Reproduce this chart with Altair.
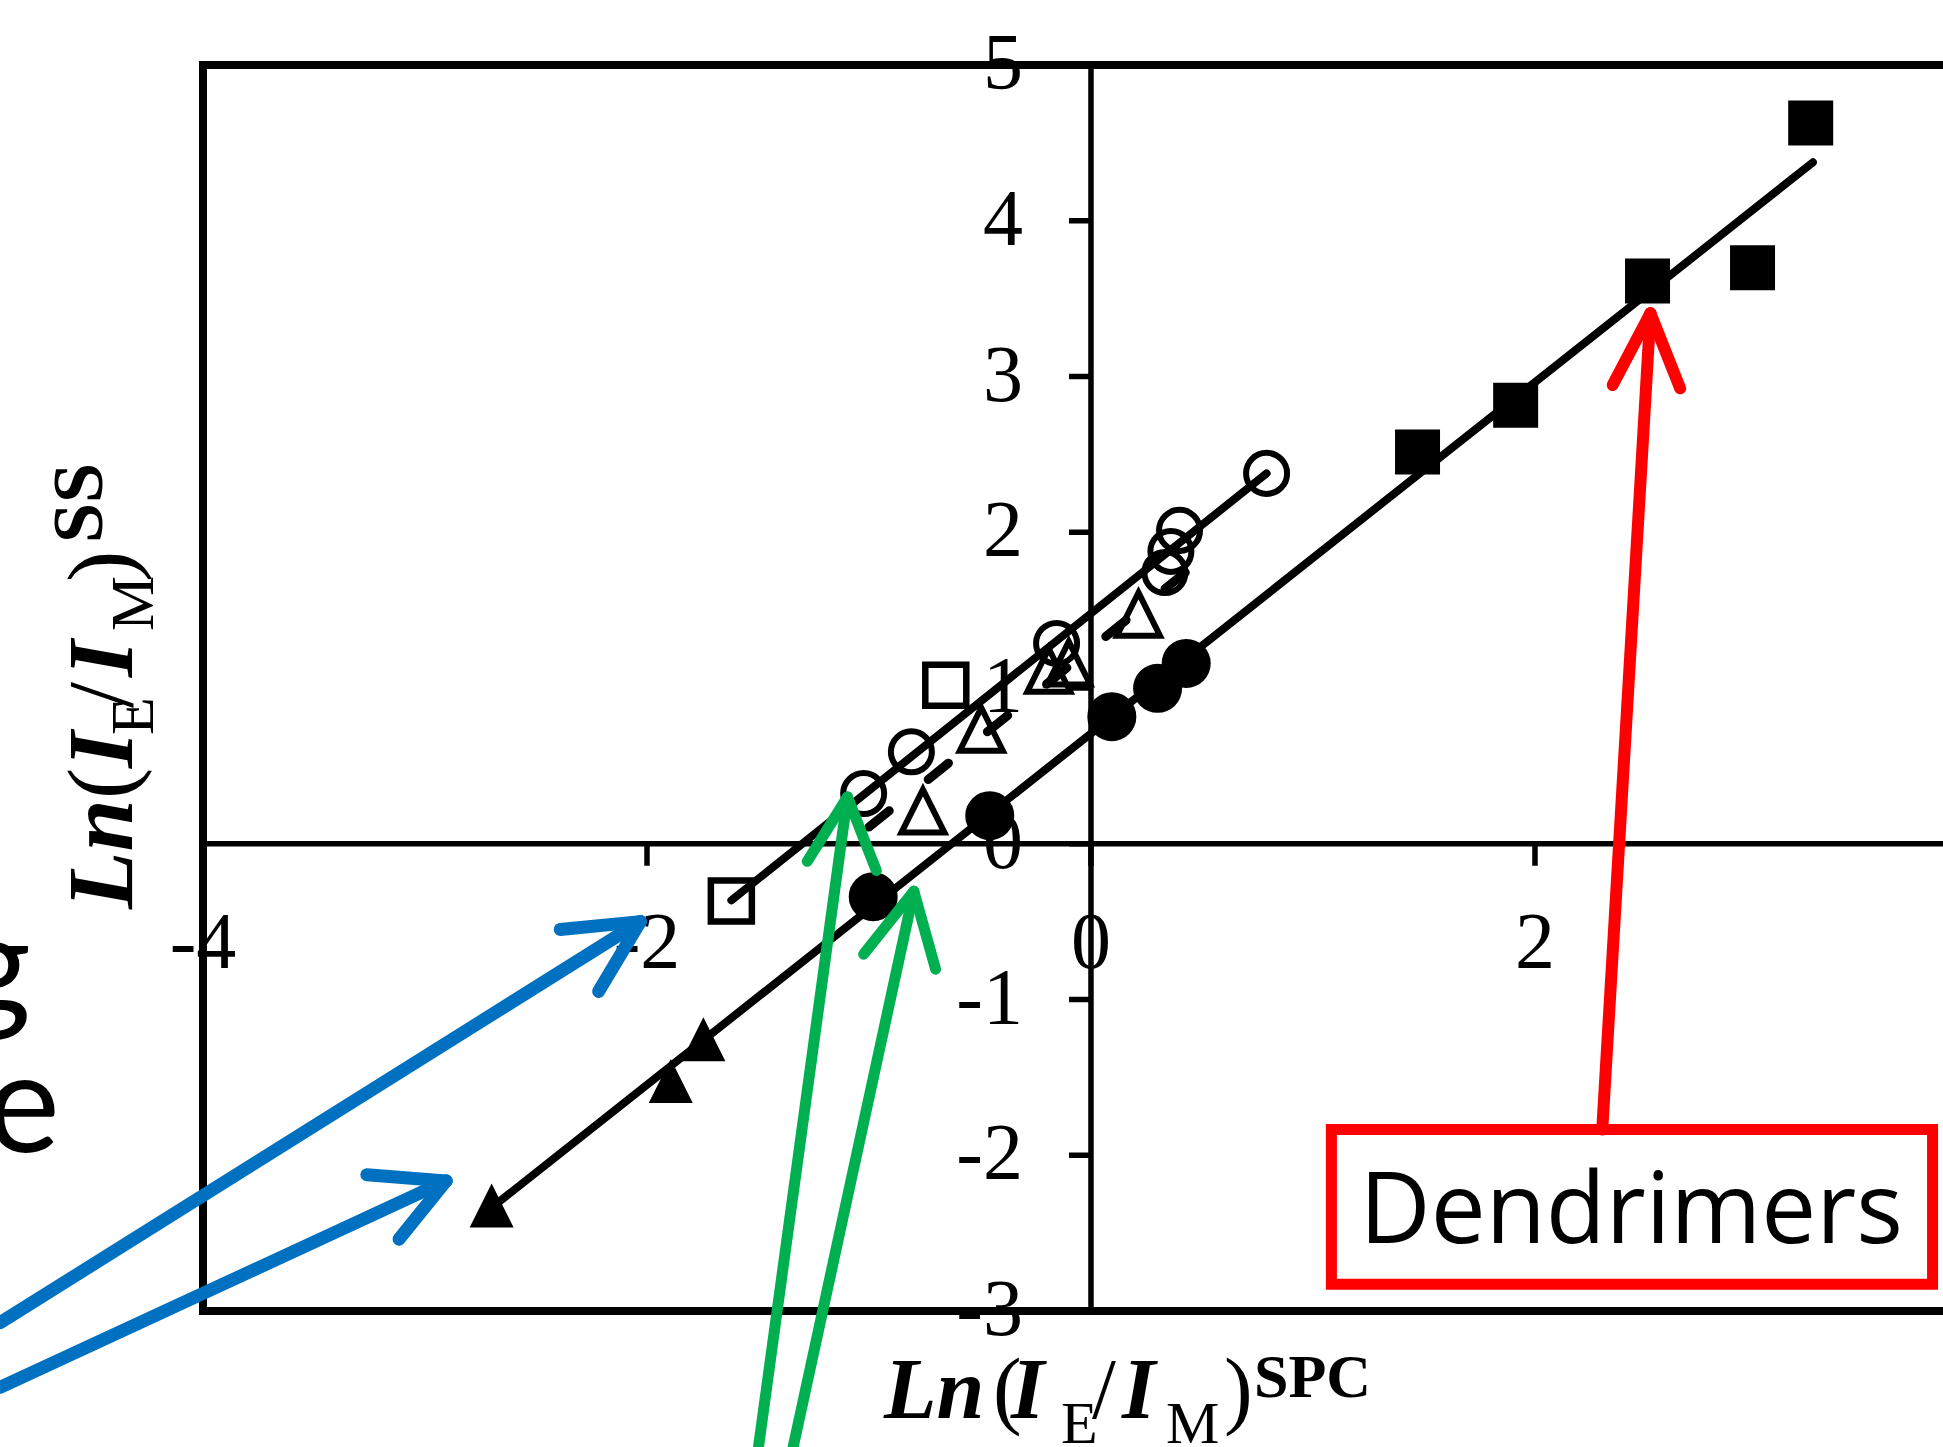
import altair as alt
import pandas as pd

# ---------------- data ----------------
X_MIN, X_MAX = -4.0, 3.838
Y_MIN, Y_MAX = -3.0, 5.0
W, H = 1740, 1246

x_ticks = [-4, -2, 0, 2]
x_tick_labels = ["-4", "-2", "0", "2"]
y_ticks = [-3, -2, -1, 0, 1, 2, 3, 4, 5]
y_tick_labels = ["-3", "-2", "-1", "0", "1", "2", "3", "4", "5"]

# Dendrimers (filled squares)
dend_x = [1.471, 1.913, 2.507, 2.980, 3.242]
dend_y = [2.516, 2.816, 3.613, 3.698, 4.627]
# filled circles
fcirc_x = [-0.981, -0.456, 0.094, 0.300, 0.429]
fcirc_y = [-0.340, 0.180, 0.816, 0.998, 1.158]
# filled triangles
ftri_x = [-1.746, -1.893, -2.700]
ftri_y = [-1.256, -1.523, -2.322]
# open circles
ocirc_x = [-1.024, -0.809, -0.155, 0.333, 0.360, 0.399, 0.791]
ocirc_y = [0.322, 0.590, 1.286, 1.741, 1.877, 2.012, 2.378]
# open triangles
otri_x = [-0.757, -0.494, -0.190, -0.100, 0.214]
otri_y = [0.210, 0.735, 1.114, 1.160, 1.474]
# open squares
osq_x = [-1.620, -0.654]
osq_y = [-0.367, 1.018]

# fitted lines (end points)
fit_upper_x = [-1.620, 0.791]
fit_upper_y = [-0.363, 2.378]
fit_lower_x = [-2.677, 3.252]
fit_lower_y = [-2.311, 4.375]
fit_dash_x = [-1.000, 0.460]
fit_dash_y = [0.107, 1.782]

# annotation arrows: tip, barb ends, tail (data units)
arrow_color = ["#0070C0", "#0070C0", "#00B050", "#00B050", "#FF0000"]
arrow_tip_x = [-2.030, -2.905, -1.097, -0.798, 2.520]
arrow_tip_y = [-0.500, -2.165, 0.300, -0.305, 3.406]
arrow_tail_x = [-4.914, -4.914, -1.498, -1.342, 2.303]
arrow_tail_y = [-3.075, -3.490, -3.876, -3.876, -1.835]
arrow_b1_x = [-2.391, -3.262, -1.278, -1.024, 2.350]
arrow_b1_y = [-0.550, -2.125, -0.113, -0.709, 2.945]
arrow_b2_x = [-2.218, -3.117, -0.967, -0.700, 2.654]
arrow_b2_y = [-0.948, -2.539, -0.172, -0.805, 2.924]
arrow_width = [13, 13, 11, 11, 12]

box_x = [1.083, 3.791]
box_y = [-1.835, -2.829]
box_label = "Dendrimers"
box_label_pos = [2.434, -2.563]

# axis titles split into styled pieces
x_title_text = ["Ln", "(", "I", "E", "/", "I", "M", ")", "SPC"]
y_title_text = ["Ln", "(", "I", "E", "/", "I", "M", ")", "SS"]
title_kind = ["bi", "r", "bi", "sub", "r", "bi", "sub", "r", "sup"]
x_title_px = [681, 790, 808, 858, 889, 919, 963, 1021, 1051]
y_title_px = [844, 734, 703, 670, 643, 612, 566, 517, 478]

fragment_text = ["g", "e"]

# ---------------- chart ----------------
xs = alt.Scale(domain=[X_MIN, X_MAX], nice=False, zero=False)
ys = alt.Scale(domain=[Y_MIN, Y_MAX], nice=False, zero=False)


def X(f="x"):
    return alt.X(f"{f}:Q", scale=xs, axis=None)


def Y(f="y"):
    return alt.Y(f"{f}:Q", scale=ys, axis=None)


layers = []

# frame
frame = pd.DataFrame({
    "x": [X_MIN, X_MIN, X_MIN], "x2": [X_MAX, X_MAX, X_MIN],
    "y": [Y_MAX, Y_MIN, Y_MIN], "y2": [Y_MAX, Y_MIN, Y_MAX]})
layers.append(alt.Chart(frame).mark_rule(color="black", strokeWidth=8, strokeCap="square").encode(
    x=X(), x2="x2:Q", y=Y(), y2="y2:Q"))

# crossing axes
axes_df = pd.DataFrame({"x": [X_MIN, 0], "x2": [X_MAX, 0], "y": [0, Y_MIN], "y2": [0, Y_MAX]})
layers.append(alt.Chart(axes_df).mark_rule(color="black", strokeWidth=5.5).encode(
    x=X(), x2="x2:Q", y=Y(), y2="y2:Q"))

# ticks
xt = pd.DataFrame({"x": x_ticks, "y": [0] * len(x_ticks), "t": x_tick_labels})
yt = pd.DataFrame({"x": [0] * len(y_ticks), "y": y_ticks, "t": y_tick_labels})
layers.append(alt.Chart(xt).mark_rule(color="black", strokeWidth=5.5, y2Offset=22).encode(
    x=X(), y=Y(), y2="y:Q"))
layers.append(alt.Chart(yt).mark_rule(color="black", strokeWidth=5.5, x2Offset=-22).encode(
    y=Y(), x=X(), x2="x:Q"))
layers.append(alt.Chart(xt).mark_text(font="Liberation Serif", fontSize=80, align="center",
                                      baseline="alphabetic", dy=124, color="black").encode(
    x=X(), y=Y(), text="t:N"))
layers.append(alt.Chart(yt).mark_text(font="Liberation Serif", fontSize=80, align="right",
                                      baseline="middle", dx=-68, color="black").encode(
    x=X(), y=Y(), text="t:N"))

# fitted lines
fit_df = pd.DataFrame({
    "x": fit_upper_x + fit_lower_x, "y": fit_upper_y + fit_lower_y,
    "g": ["u", "u", "l", "l"]})
layers.append(alt.Chart(fit_df).mark_line(color="black", strokeWidth=8, strokeCap="round").encode(
    x=X(), y=Y(), detail="g:N"))
dash_df = pd.DataFrame({"x": fit_dash_x, "y": fit_dash_y})
layers.append(alt.Chart(dash_df).mark_line(color="black", strokeWidth=9, strokeCap="round",
                                           strokeDash=[26, 50]).encode(x=X(), y=Y()))

TRI = "M0,-1L1,1L-1,1Z"


def pts(xv, yv, shape, size, filled, sw=0):
    df = pd.DataFrame({"x": xv, "y": yv})
    if filled:
        m = alt.Chart(df).mark_point(shape=shape, size=size, filled=True, color="black", opacity=1)
    else:
        m = alt.Chart(df).mark_point(shape=shape, size=size, filled=False, color="black",
                                     opacity=1, strokeWidth=sw)
    return m.encode(x=X(), y=Y())


layers.append(pts(ocirc_x, ocirc_y, "circle", 41 ** 2, False, 6))
layers.append(pts(otri_x, otri_y, TRI, 43 ** 2, False, 6))
layers.append(pts(osq_x, osq_y, "square", 41 ** 2, False, 6.5))
layers.append(pts(fcirc_x, fcirc_y, "circle", 49 ** 2, True))
layers.append(pts(ftri_x, ftri_y, TRI, 44 ** 2, True))
layers.append(pts(dend_x, dend_y, "square", 45 ** 2, True))

# arrows
seg_rows = []
for i in range(len(arrow_color)):
    for (ex, ey) in [(arrow_tail_x[i], arrow_tail_y[i]), (arrow_b1_x[i], arrow_b1_y[i]),
                     (arrow_b2_x[i], arrow_b2_y[i])]:
        seg_rows.append({"x": arrow_tip_x[i], "y": arrow_tip_y[i], "x2": ex, "y2": ey,
                         "c": arrow_color[i], "w": arrow_width[i]})
seg_df = pd.DataFrame(seg_rows)
layers.append(alt.Chart(seg_df).mark_rule(strokeCap="round").encode(
    x=X(), y=Y(), x2="x2:Q", y2="y2:Q",
    color=alt.Color("c:N", scale=None), strokeWidth=alt.StrokeWidth("w:Q", scale=None)))

# red box + label
box_df = pd.DataFrame({"x": [box_x[0]], "x2": [box_x[1]], "y": [box_y[0]], "y2": [box_y[1]]})
layers.append(alt.Chart(box_df).mark_rect(fillOpacity=0, stroke="#FF0000", strokeWidth=11).encode(
    x=X(), x2="x2:Q", y=Y(), y2="y2:Q"))
lab_df = pd.DataFrame({"x": [box_label_pos[0]], "y": [box_label_pos[1]], "t": [box_label]})
layers.append(alt.Chart(lab_df).mark_text(font="Open Sans", fontSize=98, align="center",
                                          baseline="alphabetic", color="black").encode(
    x=X(), y=Y(), text="t:N"))

# axis titles
STYLE = {
    "bi": dict(fontSize=86, fontStyle="italic", fontWeight="bold", off=0),
    "r": dict(fontSize=86, fontStyle="normal", fontWeight="normal", off=0),
    "sub": dict(fontSize=60, fontStyle="normal", fontWeight="normal", off=25),
    "sup": dict(fontSize=62, fontStyle="normal", fontWeight="bold", off=-21),
}
for txt, kind, px in zip(x_title_text, title_kind, x_title_px):
    st = STYLE[kind]
    layers.append(alt.Chart(pd.DataFrame({"t": [txt]})).mark_text(
        font="Liberation Serif", fontSize=st["fontSize"], fontStyle=st["fontStyle"],
        fontWeight=st["fontWeight"], align="left", baseline="alphabetic", color="black").encode(
        text="t:N", x=alt.value(px), y=alt.value(1353 + st["off"])))

YSTYLE = {
    "bi": dict(fontSize=94, fontStyle="italic", fontWeight="bold", off=0),
    "r": dict(fontSize=94, fontStyle="normal", fontWeight="normal", off=0),
    "sub": dict(fontSize=62, fontStyle="normal", fontWeight="normal", off=21),
    "sup": dict(fontSize=72, fontStyle="normal", fontWeight="bold", off=-30),
}
for txt, kind, py in zip(y_title_text, title_kind, y_title_px):
    st = YSTYLE[kind]
    layers.append(alt.Chart(pd.DataFrame({"t": [txt]})).mark_text(
        font="Liberation Serif", fontSize=st["fontSize"], fontStyle=st["fontStyle"],
        fontWeight=st["fontWeight"], align="left", baseline="alphabetic", angle=270,
        color="black").encode(
        text="t:N", x=alt.value(-71 + st["off"]), y=alt.value(py)))

# cut-off text fragments at the left edge
layers.append(alt.Chart(pd.DataFrame({"t": [fragment_text[0]]})).mark_text(
    font="Lato", fontSize=140, align="right", baseline="alphabetic", color="black").encode(
    text="t:N", x=alt.value(-172), y=alt.value(949)))
layers.append(alt.Chart(pd.DataFrame({"t": [fragment_text[1]]})).mark_text(
    font="Lato", fontSize=140, align="right", baseline="alphabetic", color="black").encode(
    text="t:N", x=alt.value(-143), y=alt.value(1087)))

chart = alt.layer(*layers).properties(
    width=W, height=H,
    autosize=alt.AutoSizeParams(type="none"),
    padding={"left": 203, "top": 65, "right": 0, "bottom": 136},
).configure_view(stroke=None)

chart.save("out.html", embed_options={"renderer": "svg", "actions": False})
